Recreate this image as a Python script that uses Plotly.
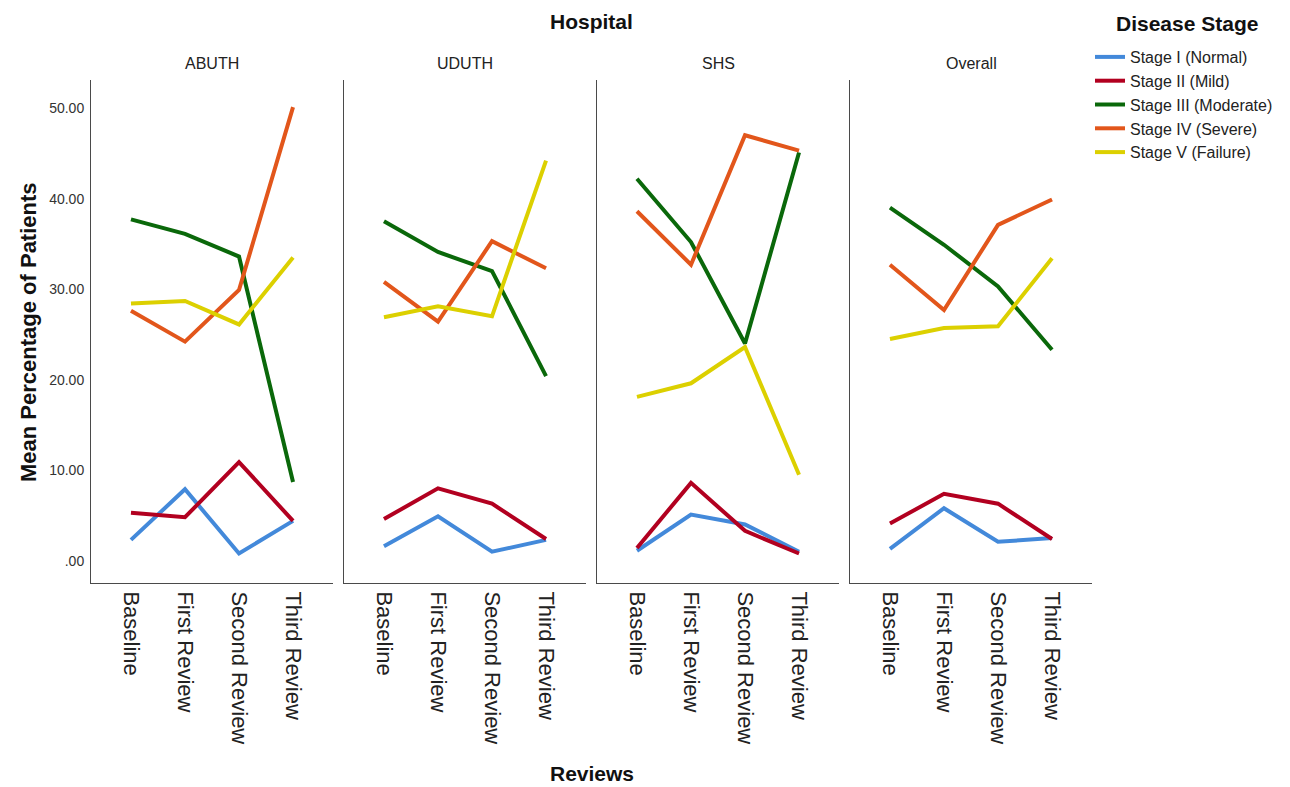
import plotly.graph_objects as go

# ---------------- data ----------------
reviews = ["Baseline", "First Review", "Second Review", "Third Review"]
hospitals = ["ABUTH", "UDUTH", "SHS", "Overall"]
stages = ["Stage I (Normal)", "Stage II (Mild)", "Stage III (Moderate)",
          "Stage IV (Severe)", "Stage V (Failure)"]

# rows = stages (I..V), columns = reviews
abuth = [
    [2.3, 7.9, 0.8, 4.4],
    [5.3, 4.8, 10.9, 4.4],
    [37.7, 36.1, 33.6, 8.7],
    [27.6, 24.2, 29.9, 50.1],
    [28.4, 28.7, 26.1, 33.5],
]
uduth = [
    [1.6, 4.9, 1.0, 2.3],
    [4.6, 8.0, 6.3, 2.4],
    [37.5, 34.1, 32.0, 20.4],
    [30.8, 26.4, 35.3, 32.3],
    [26.9, 28.1, 27.0, 44.2],
]
shs = [
    [1.1, 5.1, 4.0, 1.0],
    [1.4, 8.6, 3.3, 0.8],
    [42.2, 35.2, 24.0, 45.1],
    [38.6, 32.7, 47.0, 45.3],
    [18.1, 19.6, 23.6, 9.5],
]
overall = [
    [1.3, 5.8, 2.1, 2.5],
    [4.1, 7.4, 6.3, 2.4],
    [39.0, 34.9, 30.3, 23.3],
    [32.7, 27.7, 37.1, 39.9],
    [24.5, 25.7, 25.9, 33.4],
]

y_tickvals = [0, 10, 20, 30, 40, 50]
y_ticktext = [".00", "10.00", "20.00", "30.00", "40.00", "50.00"]

# ---------------- style ----------------
colors = ["#4389DA", "#B20020", "#0A680A", "#E2561B", "#DCD000"]
FONT = "Liberation Sans, Arial, sans-serif"
OFF = 8                      # page body margin offset
W, H = 1290 - OFF, 787 - OFF
panel_left = [91, 344, 597, 850]   # page pixels
panel_width = 242
plot_top, plot_bottom = 80, 583


def px(xp):
    return (xp - OFF) / W


def py(yp):
    return 1 - (yp - OFF) / H


axis_color = "#4a4a4a"

fig = go.Figure()
all_data = [abuth, uduth, shs, overall]

for i, (hosp, data) in enumerate(zip(hospitals, all_data)):
    xa = "x" if i == 0 else f"x{i+1}"
    ya = "y" if i == 0 else f"y{i+1}"
    for name, col, vals in zip(stages, colors, data):
        fig.add_trace(go.Scatter(
            x=reviews, y=vals, mode="lines", name=name,
            legendgroup=name, showlegend=(i == 0),
            line=dict(color=col, width=4),
            xaxis=xa, yaxis=ya,
        ))

layout = {}
annotations = []
for i, hosp in enumerate(hospitals):
    xkey = "xaxis" if i == 0 else f"xaxis{i+1}"
    ykey = "yaxis" if i == 0 else f"yaxis{i+1}"
    xa = "x" if i == 0 else f"x{i+1}"
    ya = "y" if i == 0 else f"y{i+1}"
    x0 = px(panel_left[i])
    x1 = px(panel_left[i] + panel_width)
    layout[xkey] = dict(
        domain=[x0, x1], anchor=ya, type="category",
        range=[-0.74, 3.74], showline=True, linecolor=axis_color, linewidth=1,
        ticks="", tickangle=90, showgrid=False, zeroline=False,
        tickfont=dict(family=FONT, size=22, color="#222222"),
        ticklabelstandoff=3,
        automargin=False, fixedrange=True,
    )
    layout[ykey] = dict(
        domain=[py(plot_bottom), py(plot_top)], anchor=xa,
        range=[-2.46, 53.1], showline=True, linecolor=axis_color, linewidth=1,
        ticks="", showgrid=False, zeroline=False,
        tickvals=y_tickvals, ticktext=y_ticktext,
        showticklabels=(i == 0), ticklabelstandoff=3,
        tickfont=dict(family=FONT, size=14, color="#333333"),
        automargin=False, fixedrange=True,
    )
    annotations.append(dict(
        text=hosp, x=(x0 + x1) / 2, y=py(63), xref="paper", yref="paper",
        showarrow=False, xanchor="center", yanchor="middle",
        font=dict(family=FONT, size=16, color="#222222"),
    ))

center_x = (px(panel_left[0]) + px(panel_left[-1] + panel_width)) / 2
annotations.append(dict(
    text="<b>Hospital</b>", x=center_x, y=py(22), xref="paper", yref="paper",
    showarrow=False, xanchor="center", yanchor="middle",
    font=dict(family=FONT, size=21, color="#111111"),
))
annotations.append(dict(
    text="<b>Reviews</b>", x=center_x, y=py(773), xref="paper", yref="paper",
    showarrow=False, xanchor="center", yanchor="middle",
    font=dict(family=FONT, size=21, color="#111111"),
))
annotations.append(dict(
    text="<b>Mean Percentage of Patients</b>", x=px(28), y=py(332),
    xref="paper", yref="paper", textangle=-90,
    showarrow=False, xanchor="center", yanchor="middle",
    font=dict(family=FONT, size=22, color="#111111"),
))
annotations.append(dict(
    text="<b>Disease Stage</b>", x=px(1187), y=py(23),
    xref="paper", yref="paper",
    showarrow=False, xanchor="center", yanchor="middle",
    font=dict(family=FONT, size=21, color="#111111"),
))

fig.update_layout(
    width=W, height=H,
    margin=dict(l=0, r=0, t=0, b=0, autoexpand=False),
    paper_bgcolor="white", plot_bgcolor="white",
    font=dict(family=FONT, color="#222222"),
    annotations=annotations,
    legend=dict(
        x=px(1090), y=py(40), xanchor="left", yanchor="top",
        font=dict(family=FONT, size=16, color="#222222"),
        bgcolor="rgba(0,0,0,0)", tracegroupgap=0, itemwidth=30,
    ),
    showlegend=True,
    **layout,
)

fig.write_html("out.html")
